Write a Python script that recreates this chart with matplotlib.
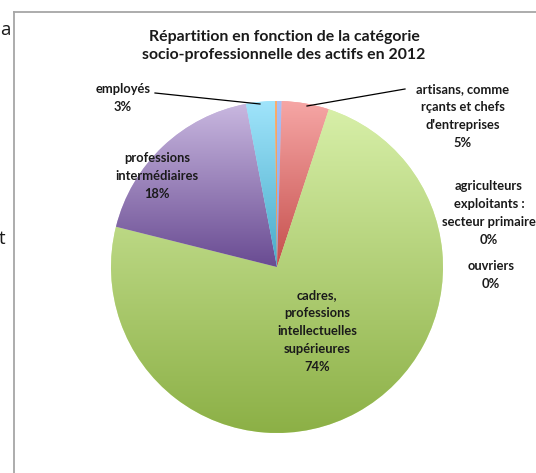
import numpy as np
import matplotlib
matplotlib.use('Agg')
import matplotlib.pyplot as plt
from matplotlib.colors import to_rgb
from matplotlib.lines import Line2D

# Data (share of active population, %)
categories = ['agriculteurs exploitants : secteur primaire',
              'artisans, commerçants et chefs d\'entreprises',
              'cadres, professions intellectuelles supérieures',
              'professions intermédiaires',
              'employés',
              'ouvriers']
values = [0.45, 4.6, 73.85, 18.1, 2.8, 0.2]
pct_labels = ['0%', '5%', '74%', '18%', '3%', '0%']
label_texts = ['agriculteurs\nexploitants :\nsecteur primaire',
               'artisans, comme\nrçants et chefs\nd\'entreprises',
               'cadres,\nprofessions\nintellectuelles\nsupérieures',
               'professions\nintermédiaires',
               'employés',
               'ouvriers']
# gradient colours (top, bottom) per slice
top_colors = ['#a9c0f5', '#f6a6a5', '#d7efa8', '#c9b8e0', '#a0e4fb', '#fbae6e']
bottom_colors = ['#8aa6ea', '#c54f4c', '#8cb046', '#694b92', '#47abc9', '#f08a3a']

title = 'Répartition en fonction de la catégorie\nsocio-professionnelle des actifs en 2012'

W, H = 536, 473
CX, CY, R = 277, 267, 166
FONT = 'Lato'


def px(x, y):
    # pixel position in the picture -> data coords of the pie
    return (x - CX) / R, (CY - y) / R


fig = plt.figure(figsize=(W / 100, H / 100), dpi=100)
ax = fig.add_axes([0, 0, 1, 1])
ax.set_axis_off()

wedges, _ = ax.pie(values, startangle=90, counterclock=False, radius=1,
                   colors=top_colors, wedgeprops=dict(linewidth=0))

# vertical gradient inside every slice
for w, c0, c1 in zip(wedges, top_colors, bottom_colors):
    ext = w.get_path().get_extents()
    t = np.linspace(0, 1, 256)[:, None]
    grad = (1 - t) * np.array(to_rgb(c0)) + t * np.array(to_rgb(c1))
    im = ax.imshow(grad[:, None, :], extent=[ext.x0, ext.x1, ext.y0, ext.y1],
                   origin='upper', aspect='auto', interpolation='bilinear', zorder=2)
    im.set_clip_path(w)

ax.set_xlim(-CX / R, (W - CX) / R)
ax.set_ylim(-(H - CY) / R, CY / R)

lab = dict(ha='center', va='center', fontsize=9.3, fontweight='bold',
           family=FONT, linespacing=1.58, color='#1a1a1a', zorder=5)

# label positions (pixels)
pos = [(489, 213), (463, 116), (317, 331), (157, 176), (123, 98), (491, 275)]
for txt, pct, (x, y) in zip(label_texts, pct_labels, pos):
    ax.text(*px(x, y), txt + '\n' + pct, **lab)

# leader lines
for (x0, y0), (x1, y1) in [((155, 93), (260, 104)), ((307, 106), (405, 89))]:
    a, b = px(x0, y0)
    c, d = px(x1, y1)
    ax.plot([a, c], [b, d], color='black', lw=0.9, zorder=4)

fig.text(284 / W, 1 - 46 / H, title, ha='center', va='center', fontsize=11.4,
         fontweight='bold', family=FONT, linespacing=1.45, color='#1a1a1a')

# chart frame and surrounding document text
fig.add_artist(Line2D([13.5 / W, 13.5 / W], [0, 1 - 12 / H], color='#a6a6a6', lw=1.3))
fig.add_artist(Line2D([13.5 / W, 1], [1 - 12 / H, 1 - 12 / H], color='#a6a6a6', lw=1.3))
fig.text(0 / W, 1 - 30 / H, 'a', fontsize=13.5, family='Open Sans', va='center', color='#1a1a1a')
fig.text(-1 / W, 1 - 239 / H, 't', fontsize=13.5, family='Open Sans', va='center', color='#1a1a1a')

fig.savefig('out.png', dpi=100)
